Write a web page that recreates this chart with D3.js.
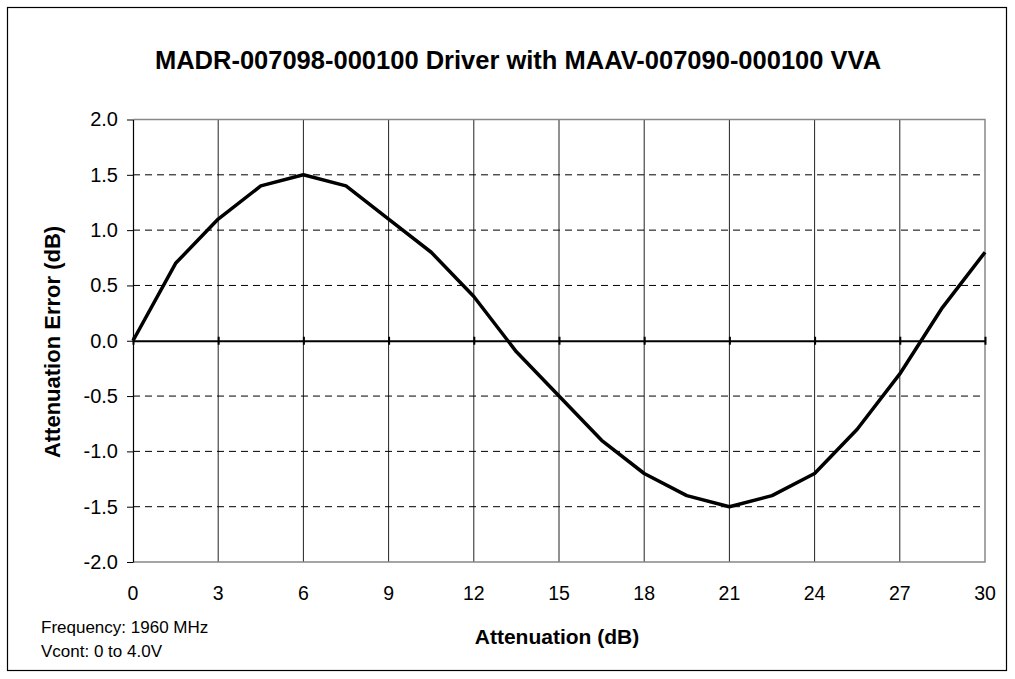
<!DOCTYPE html>
<html>
<head>
<meta charset="utf-8">
<script src="https://cdn.jsdelivr.net/npm/d3@7"></script>
<style>
  body { margin: 0; background: #fff; }
  svg { font-family: "Liberation Sans", Arial, sans-serif; }
</style>
</head>
<body>
<div id="chart"></div>
<script>
const ATTENUATION = [0, 1.5, 3, 4.5, 6, 7.5, 9, 10.5, 12, 13.5, 15, 16.5, 18, 19.5, 21, 22.5, 24, 25.5, 27, 28.5, 30];
const ERROR_DB = [0.0, 0.7, 1.1, 1.4, 1.5, 1.4, 1.1, 0.8, 0.4, -0.1, -0.5, -0.9, -1.2, -1.4, -1.5, -1.4, -1.2, -0.8, -0.3, 0.3, 0.8];
const X_TICKS = [0, 3, 6, 9, 12, 15, 18, 21, 24, 27, 30];
const Y_TICKS = [-2.0, -1.5, -1.0, -0.5, 0.0, 0.5, 1.0, 1.5, 2.0];

const WIDTH = 1015;
const HEIGHT = 679;
const PLOT = { LEFT: 133, RIGHT: 985, TOP: 119.5, BOTTOM: 562 };

const SVG = d3.select("#chart").append("svg")
  .attr("width", WIDTH)
  .attr("height", HEIGHT);

// outer frame
SVG.append("rect")
  .attr("x", 7.5).attr("y", 7.5)
  .attr("width", 999).attr("height", 663)
  .attr("fill", "none").attr("stroke", "#000").attr("stroke-width", 1.2);

const X_SCALE = d3.scaleLinear().domain([0, 30]).range([PLOT.LEFT, PLOT.RIGHT]);
const Y_SCALE = d3.scaleLinear().domain([-2, 2]).range([PLOT.BOTTOM, PLOT.TOP]);

// vertical grid
SVG.append("g").selectAll("line")
  .data(X_TICKS.filter((d) => d > 0 && d < 30))
  .enter().append("line")
  .attr("x1", (d) => X_SCALE(d)).attr("x2", (d) => X_SCALE(d))
  .attr("y1", PLOT.TOP).attr("y2", PLOT.BOTTOM)
  .attr("stroke", "#222").attr("stroke-width", 1);

// horizontal dashed grid
SVG.append("g").selectAll("line")
  .data(Y_TICKS.filter((d) => d !== 0 && Math.abs(d) < 2))
  .enter().append("line")
  .attr("x1", PLOT.LEFT).attr("x2", PLOT.RIGHT)
  .attr("y1", (d) => Y_SCALE(d)).attr("y2", (d) => Y_SCALE(d))
  .attr("stroke", "#000").attr("stroke-width", 1)
  .attr("stroke-dasharray", "7,5");

// plot border (top, right, bottom gray)
SVG.append("path")
  .attr("d", "M" + PLOT.LEFT + "," + PLOT.TOP + "H" + PLOT.RIGHT + "V" + PLOT.BOTTOM + "H" + PLOT.LEFT)
  .attr("fill", "none").attr("stroke", "#888").attr("stroke-width", 1.5);

// y axis
const Y_AXIS = d3.axisLeft(Y_SCALE)
  .tickValues(Y_TICKS)
  .tickFormat(d3.format(".1f"))
  .tickSize(6)
  .tickSizeOuter(0)
  .tickPadding(9);

const Y_G = SVG.append("g")
  .attr("transform", "translate(" + PLOT.LEFT + ",0)")
  .call(Y_AXIS);
Y_G.select(".domain").attr("stroke", "#000").attr("stroke-width", 1.2);
Y_G.selectAll(".tick line").attr("stroke", "#000");
Y_G.selectAll("text")
  .style("font-size", "20px").style("fill", "#000")
  .text((d) => d3.format(".1f")(d).replace("−", "-"));

// x axis at zero
const X_AXIS = d3.axisBottom(X_SCALE)
  .tickValues(X_TICKS)
  .tickSize(0)
  .tickSizeOuter(0)
  .tickFormat("");

const X_G = SVG.append("g")
  .attr("transform", "translate(0," + Y_SCALE(0) + ")")
  .call(X_AXIS);
X_G.select(".domain").attr("stroke", "#000").attr("stroke-width", 2);
X_G.selectAll(".tick").append("line")
  .attr("y1", -4).attr("y2", 4)
  .attr("stroke", "#000").attr("stroke-width", 2);

// x tick labels below the plot
SVG.append("g").selectAll("text")
  .data(X_TICKS)
  .enter().append("text")
  .attr("x", (d) => X_SCALE(d))
  .attr("y", 600)
  .attr("text-anchor", "middle")
  .style("font-size", "19.5px")
  .text((d) => d);

// data line
const LINE = d3.line()
  .x((d, i) => X_SCALE(ATTENUATION[i]))
  .y((d) => Y_SCALE(d));

SVG.append("path")
  .datum(ERROR_DB)
  .attr("d", LINE)
  .attr("fill", "none")
  .attr("stroke", "#000")
  .attr("stroke-width", 3.5)
  .attr("stroke-linejoin", "round");

// title
SVG.append("text")
  .attr("x", 518)
  .attr("y", 69)
  .attr("text-anchor", "middle")
  .style("font-size", "25.5px")
  .style("font-weight", "bold")
  .text("MADR-007098-000100 Driver with MAAV-007090-000100 VVA");

// axis titles
SVG.append("text")
  .attr("x", 557)
  .attr("y", 644)
  .attr("text-anchor", "middle")
  .style("font-size", "21px")
  .style("font-weight", "bold")
  .text("Attenuation (dB)");

SVG.append("text")
  .attr("transform", "translate(60,342) rotate(-90)")
  .attr("text-anchor", "middle")
  .style("font-size", "22px")
  .style("font-weight", "bold")
  .text("Attenuation Error (dB)");

// notes
SVG.append("text")
  .attr("x", 41).attr("y", 633)
  .style("font-size", "17px")
  .text("Frequency: 1960 MHz");

SVG.append("text")
  .attr("x", 41).attr("y", 657)
  .style("font-size", "17px")
  .text("Vcont: 0 to 4.0V");
</script>
</body>
</html>
